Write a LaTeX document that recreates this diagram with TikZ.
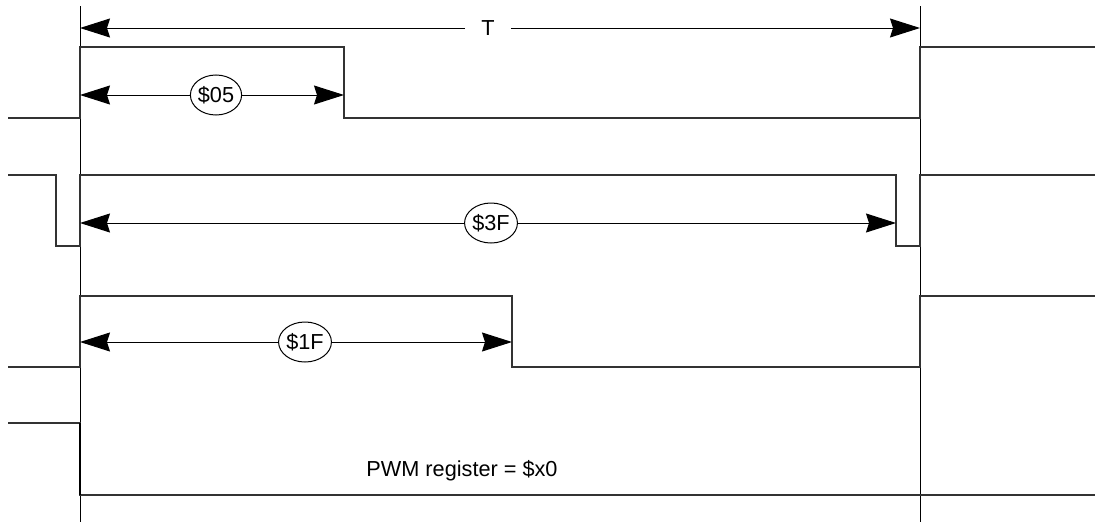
\documentclass[tikz,border=0pt]{standalone}
\usepackage{fontspec}
\setmainfont{Liberation Sans}
\usetikzlibrary{arrows.meta,shapes.geometric}
\begin{document}
\begin{tikzpicture}[x=1pt,y=-1pt,
  wave/.style={line width=1.1pt,draw=black!80},
  guide/.style={line width=0.9pt,draw=black},
  dim/.style={line width=1pt,-{Stealth[length=30pt,width=19pt,inset=3pt]}},
  val/.style={ellipse,draw,line width=1pt,fill=white,minimum width=46pt,minimum height=40pt,inner sep=0pt,font=\fontsize{21.7}{26}\selectfont},
  lbl/.style={font=\fontsize{21.7}{26}\selectfont}]
\useasboundingbox (0,0) rectangle (1103,522);
% guides
\draw[guide] (80,6) -- (80,522);
\draw[guide] (920,6) -- (920,522);
% period T
\node[lbl,fill=white,inner xsep=16pt,inner ysep=2pt] (T) at (488,28) {T};
\coordinate (TL) at (80,28);
\coordinate (TR) at (920,28);
\draw[dim] (T) -- (TL);
\draw[dim] (T) -- (TR);
% waveform 1
\draw[wave] (8,118) -- (80,118) -- (80,47) -- (344,47) -- (344,118) -- (920,118) -- (920,47) -- (1095,47);
\node[val] (v05) at (216,95) {\$05};
\coordinate (a1L) at (80,95);
\coordinate (a1R) at (344,95);
\draw[dim] (v05) -- (a1L);
\draw[dim] (v05) -- (a1R);
% waveform 2
\draw[wave] (8,175) -- (56,175) -- (56,246) -- (80,246) -- (80,175) -- (896,175) -- (896,246) -- (920,246) -- (920,175) -- (1095,175);
\node[val] (v3F) at (491,223) {\$3F};
\coordinate (a2L) at (80,223);
\coordinate (a2R) at (896,223);
\draw[dim] (v3F) -- (a2L);
\draw[dim] (v3F) -- (a2R);
% waveform 3
\draw[wave] (8,367) -- (80,367) -- (80,296) -- (512,296) -- (512,367) -- (920,367) -- (920,296) -- (1095,296);
\node[val] (v1F) at (305,342) {\$1F};
\coordinate (a3L) at (80,342);
\coordinate (a3R) at (512,342);
\draw[dim] (v1F) -- (a3L);
\draw[dim] (v1F) -- (a3R);
% waveform 4
\draw[wave] (8,423) -- (80,423) -- (80,495) -- (1095,495);
\draw[line width=2pt] (80,423) -- (80,495);
\node[lbl] (pwm) at (462,471) {PWM register = \$x0};
\end{tikzpicture}
\end{document}
